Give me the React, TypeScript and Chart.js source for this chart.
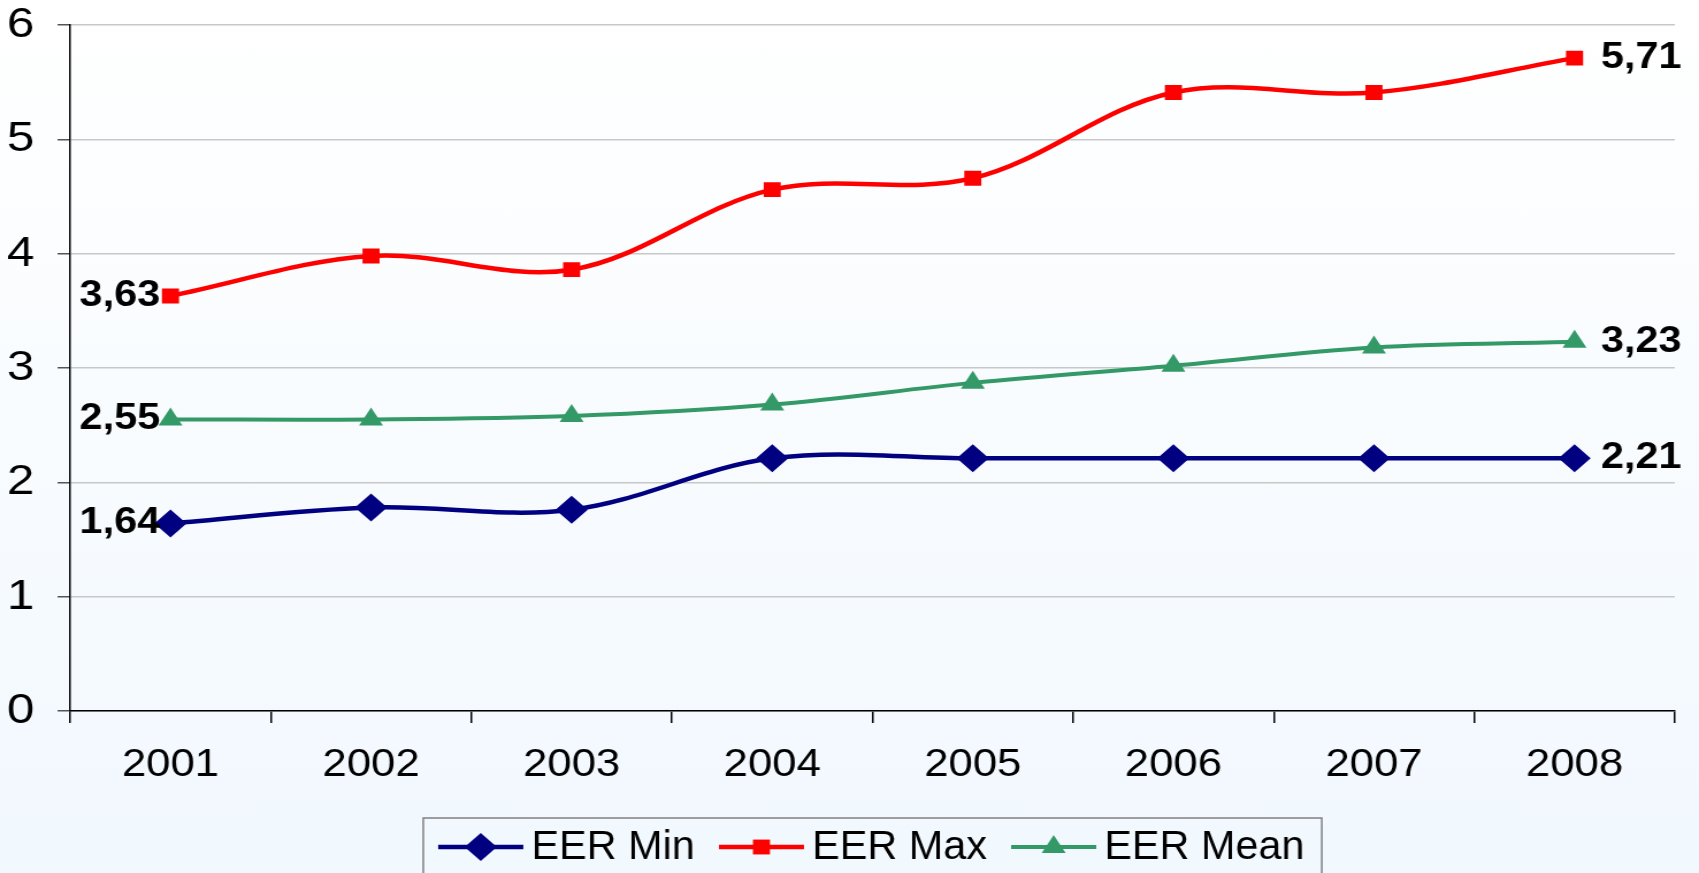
import React, { useEffect, useRef } from "react";
import { Chart, registerables } from "chart.js";

Chart.register(...registerables);

// ---- data ----
const years = ["2001", "2002", "2003", "2004", "2005", "2006", "2007", "2008"];
const eerMin = [1.64, 1.78, 1.76, 2.21, 2.21, 2.21, 2.21, 2.21];
const eerMax = [3.63, 3.98, 3.86, 4.56, 4.66, 5.41, 5.41, 5.71];
const eerMean = [2.55, 2.55, 2.58, 2.68, 2.87, 3.02, 3.18, 3.23];
const seriesLabels = ["EER Min", "EER Max", "EER Mean"];
const yMin = 0;
const yMax = 6;
const yStep = 1;

// ---- layout ----
const W = 1699;
const H = 873;
const SX = 1.15; // horizontal stretch of the reference picture
const CW = Math.round(W / SX);
const FONT = '"Liberation Sans", Arial, Helvetica, sans-serif';

function drawMarker(ctx: CanvasRenderingContext2D, style: string, x: number, y: number, r: number, color: string) {
  ctx.fillStyle = color;
  ctx.beginPath();
  if (style === "rectRot") {
    ctx.moveTo(x, y - r);
    ctx.lineTo(x + r, y);
    ctx.lineTo(x, y + r);
    ctx.lineTo(x - r, y);
  } else if (style === "rect") {
    const s = r * Math.SQRT1_2;
    ctx.rect(x - s, y - s, 2 * s, 2 * s);
  } else {
    ctx.moveTo(x, y - r);
    ctx.lineTo(x + r * 0.866, y + r * 0.5);
    ctx.lineTo(x - r * 0.866, y + r * 0.5);
  }
  ctx.closePath();
  ctx.fill();
}

const fmt = (v: number) => v.toFixed(2).replace(".", ",");

const endLabelPlugin = {
  id: "endLabels",
  afterDatasetsDraw(chart: any) {
    const ctx = chart.ctx as CanvasRenderingContext2D;
    ctx.save();
    ctx.font = `bold 36px ${FONT}`;
    ctx.fillStyle = "#000";
    ctx.textBaseline = "middle";
    chart.data.datasets.forEach((ds: any, i: number) => {
      const pts = chart.getDatasetMeta(i).data;
      const first = pts[0];
      const last = pts[pts.length - 1];
      ctx.textAlign = "right";
      ctx.fillText(fmt(ds.data[0]), first.x - 9, first.y);
      ctx.textAlign = "left";
      ctx.fillText(fmt(ds.data[ds.data.length - 1]), last.x + 23, last.y);
    });
    ctx.restore();
  },
};

const boxLegendPlugin = {
  id: "boxLegend",
  afterDraw(chart: any) {
    const ctx = chart.ctx as CanvasRenderingContext2D;
    const ca = chart.chartArea;
    ctx.save();
    ctx.font = `36px ${FONT}`;
    const lineLen = 74;
    const gapText = 7;
    const gapItem = 21;
    const padL = 13;
    const padR = 15;
    const items = chart.data.datasets.map((ds: any) => ({ ds, w: ctx.measureText(ds.label).width }));
    const total =
      padL + padR + items.reduce((s: number, it: any) => s + lineLen + gapText + it.w, 0) + gapItem * (items.length - 1);
    const cx = (ca.left + ca.right) / 2;
    const left = cx - total / 2;
    const top = chart.height - 55;
    const cy = top + 29;
    ctx.strokeStyle = "#808080";
    ctx.lineWidth = 1.5;
    ctx.strokeRect(left, top, total, 90);
    let x = left + padL;
    items.forEach(({ ds, w }: any) => {
      ctx.strokeStyle = ds.borderColor;
      ctx.lineWidth = ds.borderWidth;
      ctx.beginPath();
      ctx.moveTo(x, cy);
      ctx.lineTo(x + lineLen, cy);
      ctx.stroke();
      drawMarker(ctx, ds.pointStyle, x + lineLen / 2, cy, ds.pointRadius, ds.pointBackgroundColor);
      ctx.fillStyle = "#000";
      ctx.textAlign = "left";
      ctx.textBaseline = "middle";
      ctx.save();
      ctx.translate(x + lineLen + gapText, cy + 1);
      ctx.scale(1, 1.13);
      ctx.fillText(ds.label, 0, 0);
      ctx.restore();
      x += lineLen + gapText + w + gapItem;
    });
    ctx.restore();
  },
};

export default function App() {
  const ref = useRef<HTMLCanvasElement>(null);

  useEffect(() => {
    if (!ref.current) return;
    const chart = new Chart(ref.current, {
      type: "line",
      data: {
        labels: years,
        datasets: [
          {
            label: seriesLabels[0],
            data: eerMin,
            borderColor: "#000080",
            backgroundColor: "#000080",
            pointBackgroundColor: "#000080",
            pointBorderColor: "#000080",
            borderWidth: 4.5,
            pointStyle: "rectRot",
            pointRadius: 14,
            pointBorderWidth: 0,
          },
          {
            label: seriesLabels[1],
            data: eerMax,
            borderColor: "#ff0000",
            backgroundColor: "#ff0000",
            pointBackgroundColor: "#ff0000",
            pointBorderColor: "#ff0000",
            borderWidth: 4.5,
            pointStyle: "rect",
            pointRadius: 10.5,
            pointBorderWidth: 0,
          },
          {
            label: seriesLabels[2],
            data: eerMean,
            borderColor: "#339966",
            backgroundColor: "#339966",
            pointBackgroundColor: "#339966",
            pointBorderColor: "#339966",
            borderWidth: 4,
            pointStyle: "triangle",
            pointRadius: 12,
            pointBorderWidth: 0,
          },
        ],
      },
      options: {
        responsive: false,
        animation: false,
        devicePixelRatio: 1,
        layout: { padding: { top: 25, right: CW - Math.round(1674 / SX), bottom: 0, left: 0 } },
        elements: { line: { tension: 0.35 } },
        plugins: { legend: { display: false }, tooltip: { enabled: false } },
        scales: {
          x: {
            type: "category",
            offset: true,
            grid: {
              display: true,
              drawOnChartArea: false,
              drawTicks: true,
              tickLength: 12,
              tickColor: "#000",
              offset: true,
              lineWidth: 1.5,
            },
            border: { display: true, color: "#000", width: 1.5 },
            ticks: {
              font: { family: FONT, size: 38 },
              color: "#000",
              padding: 20,
              maxRotation: 0,
              autoSkip: false,
            },
            afterFit: (s: any) => {
              s.height = 162;
              s.paddingLeft = 0;
              s.paddingRight = 0;
            },
          },
          y: {
            min: yMin,
            max: yMax,
            ticks: {
              stepSize: yStep,
              font: { family: FONT, size: 43 },
              color: "#000",
              padding: 20,
            },
            grid: {
              color: "#c8c8c8",
              lineWidth: 1.5,
              tickColor: "#555",
              tickLength: 11,
              drawTicks: true,
            },
            border: { display: true, color: "#000", width: 1.5 },
            afterFit: (s: any) => {
              s.width = Math.round(70 / SX);
              s.paddingTop = 0;
              s.paddingBottom = 0;
            },
          },
        },
      },
      plugins: [endLabelPlugin, boxLegendPlugin],
    });
    return () => chart.destroy();
  }, []);

  return (
    <div
      style={{
        position: "fixed",
        left: 0,
        top: 0,
        width: W,
        height: H,
        overflow: "hidden",
        background: "linear-gradient(to bottom, #ffffff 0%, #f1f8fe 100%)",
      }}
    >
      <canvas ref={ref} width={CW} height={H} style={{ width: `${W}px`, height: `${H}px`, display: "block" }} />
    </div>
  );
}
